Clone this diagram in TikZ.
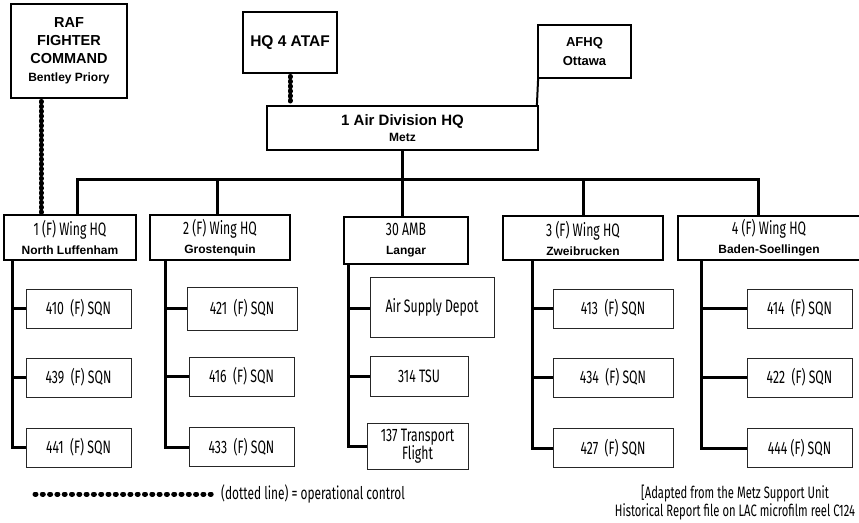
\documentclass[tikz,border=0pt]{standalone}
\usepackage{fontspec}
\setmainfont{Liberation Sans}
\newfontfamily\condfont[FakeStretch=0.68]{Fira Sans}
\usetikzlibrary{positioning}

\newcommand{\hqfont}{\fontsize{14.5}{18}\selectfont\bfseries}
\newcommand{\placefont}{\rmfamily\fontsize{12}{18}\selectfont\bfseries}
\newcommand{\unitfont}{\condfont\fontsize{18}{20}\selectfont}
\newcommand{\notefont}{\condfont\fontsize{17.5}{18}\selectfont}

\begin{document}
\begin{tikzpicture}[x=1pt,y=-1pt,
  hq/.style={draw,line width=1.8pt,align=center,inner sep=0pt,font=\hqfont},
  wing/.style={draw,line width=1.2pt,align=center,inner sep=0pt,minimum height=45pt,font=\unitfont},
  sqn/.style={draw=black!85,line width=1pt,align=center,inner sep=0pt,minimum width=105pt,minimum height=39pt,font=\unitfont},
  link/.style={line width=3pt},
  opctrl/.style={line width=5pt,line cap=round,dash pattern=on 0.6pt off 4.2pt}]
  \useasboundingbox (0,0) rectangle (859,522);

  % Higher commands and the division HQ
  \node[hq,minimum width=116pt,minimum height=94pt] (raf) at (69,51)
    {RAF\\FIGHTER\\COMMAND\\\placefont Bentley Priory};
  \node[hq,minimum width=94pt,minimum height=61pt,font=\fontsize{15.5}{18}\selectfont\bfseries] (ataf) at (290,42.5) {HQ 4 ATAF};
  \node[hq,minimum width=93pt,minimum height=53pt,font=\fontsize{13}{16}\selectfont\bfseries] (afhq) at (584.5,51.5)
    {AFHQ\\[3pt]\placefont\fontsize{13}{16}\selectfont Ottawa};
  \node[hq,minimum width=271pt,minimum height=44pt,font=\fontsize{15}{18}\selectfont\bfseries] (adhq) at (402.5,128)
    {1 Air Division HQ\\[-2pt]\placefont Metz};

  % Wings and 30 AMB
  \node[wing,minimum width=132pt] (w1) at (70,237.5) {1 (F) Wing HQ\\[-1pt]\placefont North Luffenham};
  \node[wing,minimum width=140pt] (w2) at (220,237.5) {2 (F) Wing HQ\\[-1pt]\placefont Grostenquin};
  \node[wing,minimum width=124pt,minimum height=47pt] (amb) at (406,240.5) {30 AMB\\[-1pt]\placefont Langar};
  \node[wing,minimum width=160pt,minimum height=44pt] (w3) at (583,238) {3 (F) Wing HQ\\[-1pt]\placefont Zweibrucken};
  \node[wing,minimum width=182pt,minimum height=44pt] (w4) at (769,238) {4 (F) Wing HQ\\[-1pt]\placefont Baden-Soellingen};

  % Squadrons and units
  \node[sqn] (s410) at (78.5,308.5) {410~ (F) SQN};
  \node[sqn, below=29pt of s410] (s439) {439~ (F) SQN};
  \node[sqn, below=30pt of s439] (s441) {441~ (F) SQN};
  \node[sqn,minimum width=110pt,minimum height=43pt] (s421) at (242,308.5) {421~ (F) SQN};
  \node[sqn] (s416) at (241.5,376.5) {416~ (F) SQN};
  \node[sqn, below=30.5pt of s416] (s433) {433~ (F) SQN};
  \node[sqn,minimum width=124pt,minimum height=60pt] (asd) at (432,307) {Air Supply Depot};
  \node[sqn,minimum width=98pt,minimum height=40pt] (tsu) at (419,376) {314 TSU};
  \node[sqn,minimum width=101pt,minimum height=46pt] (tpt) at (417.5,446) {137 Transport\\[-2pt]Flight};
  \node[sqn,minimum width=120pt] (s413) at (613,308.5) {413~ (F) SQN};
  \node[sqn,minimum width=120pt, below=29pt of s413] (s434) {434~ (F) SQN};
  \node[sqn,minimum width=120pt, below=30.5pt of s434] (s427) {427~ (F) SQN};
  \node[sqn] (s414) at (799.5,308.5) {414~ (F) SQN};
  \node[sqn, below=29pt of s414] (s422) {422~ (F) SQN};
  \node[sqn, below=30.5pt of s422] (s444) {444 (F) SQN};

  % Command lines
  \draw[opctrl] ([xshift=-28pt,yshift=-2.5pt]raf.south) -- ([xshift=-29pt]w1.north);
  \draw[opctrl] ([yshift=-2.5pt]ataf.south) -- (ataf.south |- adhq.north);
  \draw[line width=2pt] ([xshift=1pt]afhq.south west) -- ([xshift=-2pt]adhq.north east);

  \coordinate (busL) at (77,179.5);
  \coordinate (busR) at (758,179.5);
  \draw[link] (adhq.south) -- (adhq.south |- busL);
  \draw[link] (busL |- w1.north) -- (busL) -- (busR) -- (busR |- w4.north);
  \draw[link] (w2.north -| 217,0) -- (217,179.5);
  \draw[link] (amb.north -| adhq.south) -- (adhq.south |- busL);
  \draw[link] (w3.north) -- (w3.north |- busL);

  % Spines down to the units
  \draw[link] (w1.south -| 12,0) |- (s441.west);
  \draw[link] (12,0 |- s410.west) -- (s410.west);
  \draw[link] (12,0 |- s439.west) -- (s439.west);
  \draw[link] (w2.south -| 165,0) |- (s433.west);
  \draw[link] (165,0 |- s421.west) -- (s421.west);
  \draw[link] (165,0 |- s416.west) -- (s416.west);
  \draw[link] (amb.south -| 348,0) |- (tpt.west);
  \draw[link] (348,308) -- (asd.west |- 0,308);
  \draw[link] (348,0 |- tsu.west) -- (tsu.west);
  \draw[link] (w3.south -| 532,0) |- (s427.west);
  \draw[link] (532,0 |- s413.west) -- (s413.west);
  \draw[link] (532,0 |- s434.west) -- (s434.west);
  \draw[link] (w4.south -| 701,0) |- (s444.west);
  \draw[link] (701,0 |- s414.west) -- (s414.west);
  \draw[link] (701,0 |- s422.west) -- (s422.west);

  % Key and source note
  \node[font=\notefont,anchor=west,inner sep=0pt] (key) at (221,494) {(dotted line) = operational control};
  \coordinate (keyL) at (35,494);
  \draw[line width=5pt,line cap=round,dash pattern=on 1pt off 6.3pt] (keyL) -- ([xshift=-4pt]key.west);
  \node[font=\condfont\fontsize{16.5}{18}\selectfont,align=center,inner sep=0pt] (src) at (735,503)
    {[Adapted from the Metz Support Unit\\Historical Report file on LAC microfilm reel C124};
\end{tikzpicture}
\end{document}
